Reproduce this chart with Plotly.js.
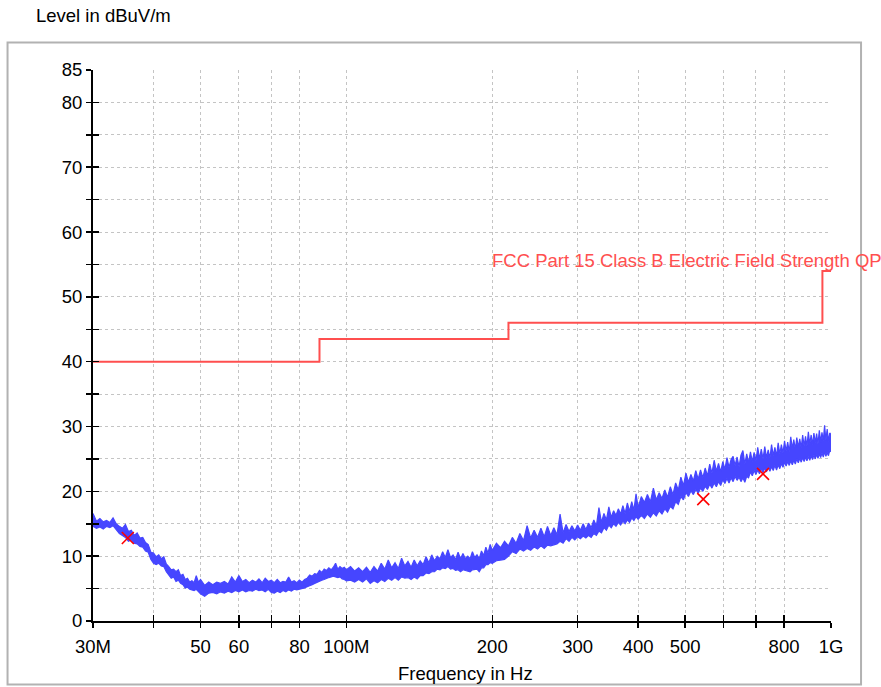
<!DOCTYPE html>
<html>
<head>
<meta charset="utf-8">
<script src="https://cdn.plot.ly/plotly-2.35.2.min.js"></script>
<style>
html,body{margin:0;padding:0;background:#fff;}
#chart{width:881px;height:687px;}
</style>
</head>
<body>
<div id="chart"></div>
<script>
// ---- Measured (peak) trace, read off the picture as a noise band:
//      [frequency in MHz, lower edge dBuV/m, upper edge dBuV/m] ----
const band30to50 = [
[30,14.6,16.6],[30.5,14.3,15.4],[31,14.5,15.8],[31.5,14.2,15.3],[32,14.6,15.5],[32.5,14.4,15.2],[33,14.7,15.9],
[33.5,14.0,15.0],[34,13.5,14.6],[34.5,13.2,14.3],[35,12.9,14.9],[35.5,12.3,13.8],[36,12.5,14.0],[36.5,12.0,13.2],
[37,11.9,13.6],[37.5,11.5,12.8],[38,11.4,12.9],[38.5,10.8,12.1],[39,10.6,11.8],[39.5,9.5,10.6],[40,8.9,10.5],
[40.5,8.7,9.9],[41,8.9,10.2],[41.5,8.5,9.6],[42,8.4,9.9],[42.5,7.6,8.8],[43,7.0,8.4],[43.5,6.6,7.9],
[44,6.8,8.0],[44.5,6.1,7.6],[45,6.3,7.9],[45.5,5.8,7.0],[46,5.6,7.2],[46.5,5.1,6.4],[47,5.2,6.6],
[47.5,4.9,6.0],[48,4.8,6.2],[48.5,4.7,5.9],[49,4.9,7.0],[49.5,4.6,6.0],[50,4.2,6.4]
];
const band51to100 = [
[51,3.8,5.5],[52,4.3,6.0],[53,4.4,5.6],[54,4.2,6.0],[55,4.5,5.8],[56,4.3,6.1],[57,4.6,5.7],[58,4.4,6.8],
[59,4.7,6.0],[60,4.5,7.0],[61,4.8,6.1],[62,4.5,6.4],[63,4.7,5.9],[64,4.6,6.3],[65,4.9,6.0],[66,4.7,6.5],
[67,4.8,5.9],[68,4.5,6.6],[69,4.9,6.1],[70,4.4,6.3],[71,4.3,5.9],[72,4.6,6.4],[73,4.4,5.9],[74,4.7,6.1],
[75,4.5,6.0],[76,4.8,6.8],[77,4.6,6.0],[78,4.9,6.2],[79,4.8,5.9],[80,4.9,6.3],[81,4.9,6.0],[82,5.1,6.4],
[83,5.3,6.6],[84,5.4,7.1],[85,5.6,6.9],[86,5.8,7.3],[87,6.0,7.2],[88,6.1,7.8],[89,6.3,7.5],[90,6.4,8.0],
[91,6.6,7.8],[92,6.7,8.2],[93,6.8,7.9],[94,6.9,8.3],[95,6.8,8.9],[96,6.7,8.0],[97,6.8,8.4],[98,6.5,8.1],
[99,6.4,8.3],[100,6.2,7.9]
];
const band102to200 = [
[102,6.3,8.4],[104,6.0,7.7],[106,6.4,8.2],[108,6.0,7.6],[110,6.5,8.3],[112,5.8,7.5],[114,6.2,8.4],[116,5.9,7.7],
[118,6.4,8.9],[120,6.1,8.0],[122,6.6,9.4],[124,6.3,8.2],[126,6.7,9.0],[128,6.3,8.1],[130,6.8,9.7],[132,6.6,8.5],
[134,6.7,9.2],[136,6.4,8.3],[138,6.8,9.4],[140,6.5,8.5],[142,7.0,9.3],[144,7.0,8.7],[146,7.4,9.9],[148,7.3,9.0],
[150,7.6,10.2],[152,7.6,9.3],[154,8.0,10.0],[156,7.9,9.6],[158,8.2,10.7],[160,8.1,9.8],[162,8.4,11.0],[164,8.0,9.8],
[166,8.1,10.2],[168,7.8,9.5],[170,7.9,10.6],[172,7.6,9.6],[174,7.9,10.4],[176,7.8,9.6],[178,7.8,10.0],[180,7.6,9.6],
[182,7.9,10.7],[184,7.9,9.8],[186,8.0,10.2],[188,7.6,9.6],[190,8.2,10.8],[192,8.2,10.1],[194,8.7,11.4],[196,8.7,10.5],
[198,9.0,11.8],[200,8.9,10.9]
];
const band204to400 = [
[204,9.3,12.0],[208,9.4,11.3],[212,9.5,12.3],[216,10.0,11.6],[220,10.7,12.9],[224,10.4,12.0],[228,11.1,13.5],[232,10.8,12.4],
[236,11.2,14.7],[240,10.9,12.8],[244,11.4,14.0],[248,11.1,12.9],[252,11.6,14.3],[256,11.2,13.0],[260,11.7,14.6],[264,11.6,13.2],
[268,11.7,14.4],[272,11.9,13.3],[276,12.3,16.5],[280,12.0,13.6],[284,12.7,14.9],[288,12.3,13.8],[292,12.9,14.7],[296,12.5,13.9],
[300,13.0,14.8],[304,12.7,14.0],[308,13.1,15.0],[312,12.8,14.1],[316,13.2,15.1],[320,12.9,14.4],[324,13.5,15.6],[328,13.2,14.7],
[332,13.9,17.5],[336,13.6,15.2],[340,14.4,16.6],[344,14.0,15.6],[348,14.8,17.6],[352,14.4,16.0],[356,15.0,17.0],[360,14.6,16.3],
[364,15.2,17.3],[368,14.8,16.5],[372,15.4,17.8],[376,15.0,16.6],[380,15.6,18.2],[384,15.2,16.9],[388,15.9,18.4],[392,15.5,17.1],
[396,16.1,19.6],[400,15.7,17.5]
];
const band406to1000 = [
[406,16.3,19.2],[412,15.8,18.3],[418,16.5,19.5],[424,16.0,18.4],[430,16.7,20.5],[436,16.2,18.7],[442,17.0,19.8],[448,16.5,18.9],
[454,17.3,20.2],[460,16.8,19.1],[466,17.7,20.7],[472,17.3,19.5],[478,18.4,21.3],[484,18.0,20.2],[490,19.2,22.2],[496,18.7,20.9],
[502,19.8,22.8],[508,19.2,21.4],[514,20.1,22.6],[520,19.5,21.6],[526,20.3,23.2],[532,19.7,21.9],[538,20.5,23.3],[544,20.0,22.1],
[550,20.8,23.6],[556,20.3,22.4],[562,21.1,24.2],[568,20.5,22.8],[574,21.3,24.8],[580,20.7,23.1],[586,21.5,24.3],[592,20.9,23.0],
[598,21.8,24.6],[604,21.2,23.4],[610,22.0,25.2],[616,21.3,23.7],[622,22.1,24.9],[628,21.5,25.4],[634,22.3,24.0],[640,21.7,25.3],
[646,22.2,23.8],[652,21.5,25.6],[658,22.1,26.3],[664,21.4,24.2],[670,22.3,25.8],[676,22.1,24.4],[682,23.0,26.1],[688,22.4,24.6],
[694,23.2,26.0],[700,22.6,24.7],[706,23.3,26.8],[712,22.7,25.0],[718,23.5,26.5],[724,22.9,25.0],[730,23.6,26.9],[736,23.0,25.2],
[742,23.7,26.4],[748,23.1,25.1],[754,23.8,27.2],[760,23.2,25.5],[766,24.0,26.8],[772,23.3,25.4],[778,24.1,27.5],[784,23.5,25.8],
[790,24.3,27.2],[796,23.7,25.9],[802,24.5,27.8],[808,23.9,26.2],[814,24.6,27.6],[820,24.0,26.1],[826,24.7,28.4],[832,24.1,26.6],
[838,24.8,28.0],[844,24.2,26.5],[850,25.0,28.3],[856,24.4,26.8],[862,25.1,28.1],[868,24.5,26.7],[874,25.2,28.7],[880,24.6,27.0],
[886,25.3,28.5],[892,24.7,26.9],[898,25.4,29.2],[904,24.8,27.3],[910,25.5,28.7],[916,24.9,27.2],[922,25.6,29.0],[928,25.0,27.5],
[934,25.7,28.9],[940,25.1,27.3],[946,25.8,29.4],[952,25.2,27.6],[958,25.9,29.1],[964,25.3,27.8],[970,26.1,30.2],[976,25.4,27.9],
[982,26.0,29.6],[988,25.5,27.7],[994,26.3,29.0],[1000,26.1,28.8]
];

// ---- Limit line (FCC Part 15 Class B QP), MHz / dBuV/m ----
const limitFreqMHz = [30, 88, 216, 960, 1000];
const limitLevel   = [40, 43.5, 46, 54, 54];
const limitName = "FCC Part 15 Class B Electric Field Strength QP";

// ---- Final (QP) measurement markers ----
const markerFreqMHz = [35.4, 545, 724];
const markerLevel   = [12.8, 18.8, 22.7];

// ---- Axis ticks ----
const xTickMHz   = [30, 40, 50, 60, 70, 80, 100, 200, 300, 400, 500, 600, 700, 800, 1000];
const xTickText  = ["30M", "", "50", "60", "", "80", "100M", "200", "300", "400", "500", "", "", "800", "1G"];
const yTickVals  = [0,5,10,15,20,25,30,35,40,45,50,55,60,65,70,75,80,85];
const yTickText  = ["0","","10","","20","","30","","40","","50","","60","","70","","80","85"];

const MHZ = 1e6;
const band = [].concat(band30to50, band51to100, band102to200, band204to400, band406to1000);
const bandX = band.map(p => p[0] * MHZ);
const bandLow = band.map(p => p[1]);
const bandHigh = band.map(p => p[2]);

const FONT = "Liberation Sans, Arial, sans-serif";
const FS = 18.5;
const BLUE = "#4646ff";
const RED = "#ff4f4f";
const xRange = [Math.log10(30 * MHZ), Math.log10(1000 * MHZ)];
const yRange = [0, 85];

const data = [
  { x: bandX, y: bandLow, type: "scatter", mode: "lines",
    line: { color: BLUE, width: 1.2 }, hoverinfo: "skip", showlegend: false },
  { x: bandX, y: bandHigh, type: "scatter", mode: "lines", fill: "tonexty", fillcolor: BLUE,
    line: { color: BLUE, width: 1.2 }, hoverinfo: "skip", showlegend: false },
  { x: limitFreqMHz.map(f => f * MHZ), y: limitLevel, type: "scatter", mode: "lines",
    line: { color: RED, width: 2, shape: "hv" }, showlegend: false },
  { x: markerFreqMHz.map(f => f * MHZ), y: markerLevel, type: "scatter", mode: "markers",
    marker: { symbol: "x-thin", size: 12, color: "#ff0000", line: { color: "#ff0000", width: 1.6 } },
    showlegend: false, xaxis: "x2", yaxis: "y2" }
];

const commonX = {
  type: "log", range: xRange, tickmode: "array",
  tickvals: xTickMHz.map(f => f * MHZ), ticktext: xTickText
};
const commonY = { range: yRange, tickmode: "array", tickvals: yTickVals, ticktext: yTickText };

const layout = {
  width: 881, height: 687,
  margin: { l: 93, r: 50, t: 70, b: 66 },
  paper_bgcolor: "#ffffff", plot_bgcolor: "#ffffff",
  font: { family: FONT, size: FS, color: "#000" },
  xaxis: Object.assign({}, commonX, {
    showline: true, linecolor: "#000", linewidth: 2,
    ticks: "outside", ticklen: 5, tickwidth: 1.5, tickcolor: "#000",
    showgrid: true, gridcolor: "#c4c4c4", gridwidth: 1, griddash: "dot",
    zeroline: false, tickfont: { family: FONT, size: FS, color: "#000" },
    ticklabelstandoff: 3
  }),
  yaxis: Object.assign({}, commonY, {
    showline: true, linecolor: "#000", linewidth: 2,
    ticks: "outside", ticklen: 5, tickwidth: 1.5, tickcolor: "#000",
    showgrid: true, gridcolor: "#c4c4c4", gridwidth: 1, griddash: "dot",
    zeroline: false, tickfont: { family: FONT, size: FS, color: "#000" },
    ticklabelstandoff: 0
  }),
  xaxis2: Object.assign({}, commonX, {
    overlaying: "x", anchor: "y2", side: "bottom",
    ticks: "inside", ticklen: 6, tickwidth: 1.5, tickcolor: "#000",
    showticklabels: false, showgrid: false, showline: false, zeroline: false
  }),
  yaxis2: Object.assign({}, commonY, {
    overlaying: "y", anchor: "x2", side: "left",
    ticks: "inside", ticklen: 6, tickwidth: 1.5, tickcolor: "#000",
    showticklabels: false, showgrid: false, showline: false, zeroline: false
  }),
  shapes: [
    { type: "rect", xref: "paper", yref: "paper",
      x0: -0.1158, x1: 1.0407, y0: -0.1152, y1: 1.0499,
      line: { color: "#b2b2b2", width: 2 }, fillcolor: "rgba(0,0,0,0)", layer: "below" }
  ],
  annotations: [
    { text: "Level in dBuV/m", xref: "paper", yref: "paper", x: -0.0805, y: 1.0998,
      xanchor: "left", yanchor: "middle", showarrow: false,
      font: { family: FONT, size: FS, color: "#000" } },
    { text: "Frequency in Hz", xref: "paper", yref: "paper", x: 0.5054, y: -0.0944,
      xanchor: "center", yanchor: "middle", showarrow: false,
      font: { family: FONT, size: FS, color: "#000" } },
    { text: limitName, xref: "x", yref: "y", x: Math.log10(198 * MHZ), y: 55.6,
      xanchor: "left", yanchor: "middle", showarrow: false,
      font: { family: FONT, size: FS, color: RED } }
  ]
};

Plotly.newPlot("chart", data, layout, { displayModeBar: false, staticPlot: true });
</script>
</body>
</html>
